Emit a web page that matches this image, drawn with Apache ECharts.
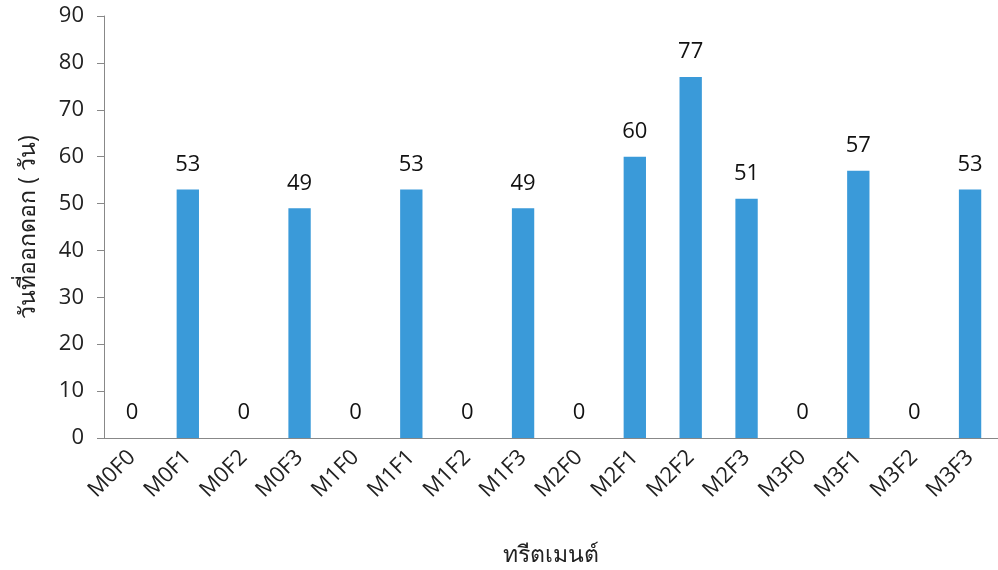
<!DOCTYPE html>
<html>
<head>
<meta charset="utf-8">
<script src="https://cdn.jsdelivr.net/npm/echarts@6/dist/echarts.min.js"></script>
<style>
  html, body { margin: 0; padding: 0; background: #fff; }
  #chart { width: 998px; height: 570px; }
</style>
</head>
<body>
<div id="chart"></div>
<script>
const categories = ["M0F0", "M0F1", "M0F2", "M0F3", "M1F0", "M1F1", "M1F2", "M1F3",
  "M2F0", "M2F1", "M2F2", "M2F3", "M3F0", "M3F1", "M3F2", "M3F3"];
const floweringDays = [0, 53, 0, 49, 0, 53, 0, 49, 0, 60, 77, 51, 0, 57, 0, 53];
const yTicks = [0, 10, 20, 30, 40, 50, 60, 70, 80, 90];

const font = "'Open Sans', 'Noto Sans', sans-serif";
const chart = echarts.init(document.getElementById("chart"));
chart.setOption({
  animation: false,
  grid: { left: 104, right: 0, top: 16, bottom: 132, outerBoundsMode: "none" },
  xAxis: {
    type: "category",
    data: categories,
    name: "ทรีตเมนต์",
    nameLocation: "middle",
    nameGap: 106,
    nameTextStyle: { fontFamily: font, fontSize: 23, color: "#222" },
    axisLine: { lineStyle: { color: "#888" } },
    axisTick: { length: 7, lineStyle: { color: "#888" } },
    axisLabel: { rotate: 45, fontFamily: font, fontSize: 22, color: "#222", margin: 16 },
  },
  yAxis: {
    type: "value",
    min: yTicks[0],
    max: yTicks[yTicks.length - 1],
    interval: 10,
    name: "วันที่ออกดอก ( วัน)",
    nameLocation: "middle",
    nameGap: 64,
    nameTextStyle: { fontFamily: font, fontSize: 23, color: "#222" },
    axisLine: { show: true, lineStyle: { color: "#888" } },
    axisTick: { show: true, length: 7, lineStyle: { color: "#888" } },
    splitLine: { show: false },
    axisLabel: { fontFamily: font, fontSize: 22, color: "#222", margin: 20 },
  },
  series: [{
    type: "bar",
    data: floweringDays,
    barWidth: "40%",
    itemStyle: { color: "#3a9ad9" },
    label: { show: true, position: "top", distance: 14, fontFamily: font, fontSize: 22, color: "#111" },
  }],
});
</script>
</body>
</html>
